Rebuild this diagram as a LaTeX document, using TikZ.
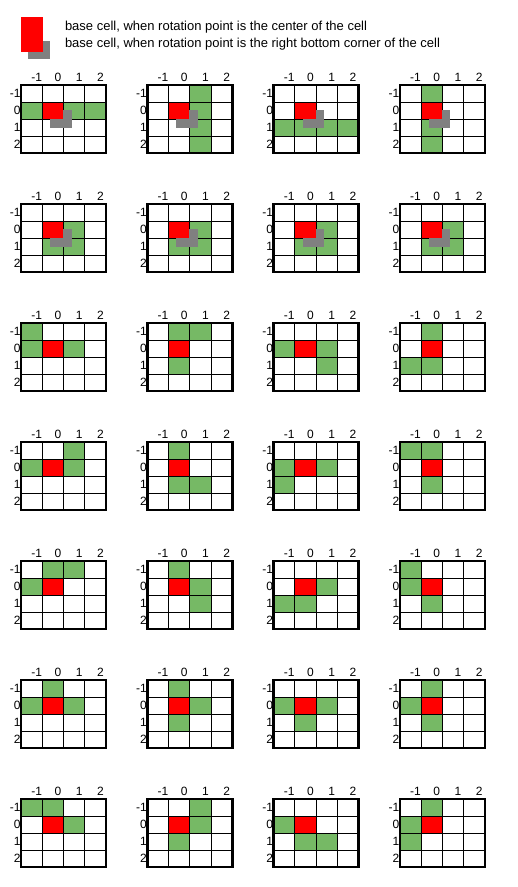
\documentclass[tikz,border=0pt]{standalone}
\usepackage{fontspec}
\setmainfont{Liberation Sans}
\usetikzlibrary{positioning}
\definecolor{blockgreen}{RGB}{118,185,101}
\definecolor{shadegray}{RGB}{128,128,128}

\begin{document}
\begin{tikzpicture}[x=1pt,y=-1pt,every node/.style={inner sep=0pt, outer sep=0pt, font=\fontsize{12}{14}\selectfont},
legendtext/.style={anchor=base west, font=\fontsize{13}{15}\selectfont},
gridline/.style={line width=1pt},
gridframe/.style={line width=2.6pt}]
\useasboundingbox (0,0) rectangle (518,887);
% legend
\fill[shadegray] (28,41) rectangle (50,59);
\fill[red] (21,17) rectangle (43,52);
\node[legendtext] (legend-center) at (65,30.7) {base cell, when rotation point is the center of the cell};
\node[legendtext] (legend-corner) at (65,47.7) {base cell, when rotation point is the right bottom corner of the cell};
% one grid per rotation: row/column/green cells
\foreach \i/\j/\cells in {
0/0/{-1/0,1/0,2/0}, 0/1/{1/-1,1/0,1/1,1/2}, 0/2/{-1/1,0/1,1/1,2/1}, 0/3/{0/-1,0/1,0/2},
1/0/{1/0,0/1,1/1}, 1/1/{1/0,0/1,1/1}, 1/2/{1/0,0/1,1/1}, 1/3/{1/0,0/1,1/1},
2/0/{-1/-1,-1/0,1/0}, 2/1/{0/-1,1/-1,0/1}, 2/2/{-1/0,1/0,1/1}, 2/3/{0/-1,-1/1,0/1},
3/0/{1/-1,-1/0,1/0}, 3/1/{0/-1,0/1,1/1}, 3/2/{-1/0,1/0,-1/1}, 3/3/{-1/-1,0/-1,0/1},
4/0/{0/-1,1/-1,-1/0}, 4/1/{0/-1,1/0,1/1}, 4/2/{1/0,-1/1,0/1}, 4/3/{-1/-1,-1/0,0/1},
5/0/{0/-1,-1/0,1/0}, 5/1/{0/-1,1/0,0/1}, 5/2/{-1/0,1/0,0/1}, 5/3/{0/-1,-1/0,0/1},
6/0/{-1/-1,0/-1,1/0}, 6/1/{1/-1,1/0,0/1}, 6/2/{-1/0,0/1,1/1}, 6/3/{0/-1,-1/0,-1/1}} {
\begin{scope}[shift={({21+126.3*\j},{85+119*\i})}]
\foreach \cx/\cy in \cells {
\fill[blockgreen] ({(\cx+1)*21.25},{(\cy+1)*17}) rectangle ++(21.25,17);
}
\foreach \k in {1,2,3} {
\draw[gridline] ({\k*21.25},0) -- ({\k*21.25},68);
\draw[gridline] (0,{\k*17}) -- (85,{\k*17});
}
\ifnum\i<2 \fill[shadegray] (29,25) rectangle ++(21.5,17.5); \fi
\fill[red] (21.75,17.5) rectangle ++(20.25,16);
\draw[gridframe] (0,0) rectangle (85,68);
\foreach \k in {-1,0,1,2} {
\node (col-\i-\j-\k) at ({(\k+1.5)*21.25+5},-7.7) {\k};
\node[anchor=east] (row-\i-\j-\k) at (-0.5,{(\k+1.5)*17}) {\k};
}
\end{scope}
}
\end{tikzpicture}
\end{document}
